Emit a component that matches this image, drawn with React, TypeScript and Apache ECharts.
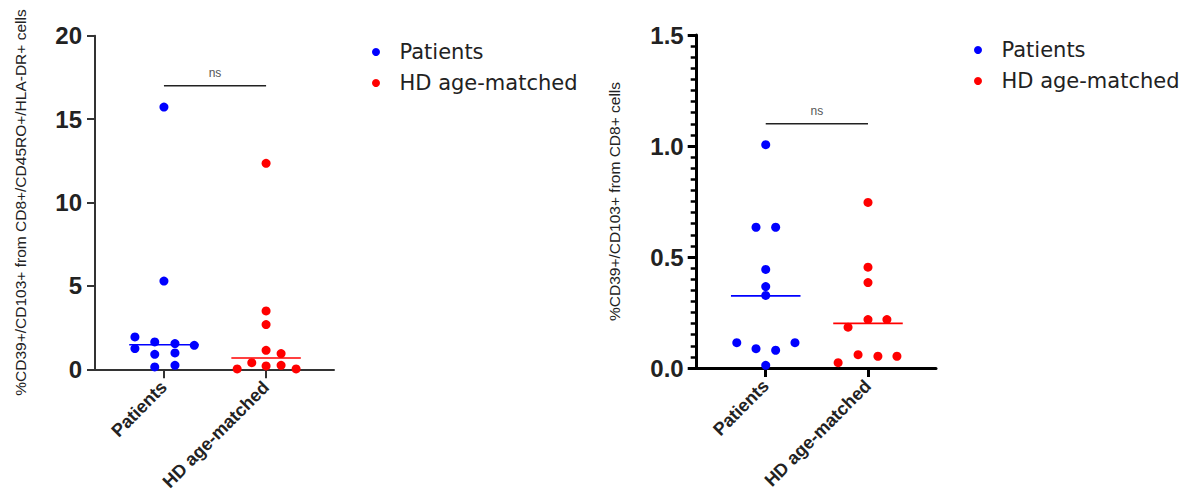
import React, { useEffect, useRef } from "react";
import * as echarts from "echarts";

const categories = ["Patients", "HD age-matched"];

// Left panel: %CD39+/CD103+ from CD8+/CD45RO+/HLA-DR+ cells  ([jittered x, value])
const leftPatients: [number, number][] = [
  [1.0, 15.72], [1.0, 5.29], [0.716, 1.94], [0.716, 1.24], [0.91, 1.64], [0.91, 0.9],
  [0.91, 0.14], [1.108, 1.54], [1.108, 0.98], [1.108, 0.24], [1.297, 1.44],
];
const leftHD: [number, number][] = [
  [2.0, 12.35], [2.0, 3.5], [2.0, 2.68], [2.0, 1.14], [1.86, 0.4], [1.717, 0.02],
  [2.0, 0.2], [2.147, 0.94], [2.147, 0.24], [2.294, 0.02],
];
const leftMedians = [1.47, 0.68];
const leftSigLevel = 17;
const leftTicks = [0, 5, 10, 15, 20];

// Right panel: %CD39+/CD103+ from CD8+ cells
const rightPatients: [number, number][] = [
  [1.0, 1.006], [0.905, 0.634], [1.097, 0.634], [1.0, 0.444], [1.0, 0.367], [1.0, 0.327],
  [0.717, 0.114], [0.905, 0.087], [1.097, 0.08], [1.286, 0.114], [1.0, 0.012],
];
const rightHD: [number, number][] = [
  [2.0, 0.746], [2.0, 0.454], [2.0, 0.385], [2.0, 0.218], [2.185, 0.218], [1.805, 0.184],
  [1.708, 0.024], [1.903, 0.06], [2.097, 0.053], [2.283, 0.053],
];
const rightMedians = [0.325, 0.201];
const rightSigLevel = 1.1;
const rightTicks = [0, 0.5, 1.0, 1.5];

const sigLabel = "ns";
const leftYName = "%CD39+/CD103+ from CD8+/CD45RO+/HLA-DR+ cells";
const rightYName = "%CD39+/CD103+ from CD8+ cells";

const BLUE = "#0000ff";
const RED = "#ff0000";
const HALF = 0.34;

function panelSeries(
  idx: number,
  patients: [number, number][],
  hd: [number, number][],
  medians: number[],
  sig: number
) {
  const base = { xAxisIndex: idx, yAxisIndex: idx };
  return [
    {
      ...base,
      type: "scatter",
      name: categories[0],
      data: patients,
      symbol: "circle",
      symbolSize: 9,
      itemStyle: { color: BLUE, opacity: 1 },
    },
    {
      ...base,
      type: "scatter",
      name: categories[1],
      data: hd,
      symbol: "circle",
      symbolSize: 9,
      itemStyle: { color: RED, opacity: 1 },
    },
    {
      ...base,
      type: "line",
      name: "medP" + idx,
      data: [[1 - HALF, medians[0]], [1 + HALF, medians[0]]],
      symbol: "none",
      lineStyle: { color: BLUE, width: 1.6 },
      z: 3,
    },
    {
      ...base,
      type: "line",
      name: "medH" + idx,
      data: [[2 - HALF, medians[1]], [2 + HALF, medians[1]]],
      symbol: "none",
      lineStyle: { color: RED, width: 1.6 },
      z: 3,
    },
    {
      ...base,
      type: "line",
      name: "sig" + idx,
      data: [[1, sig], [2, sig]],
      symbol: "none",
      lineStyle: { color: "#222", width: 1.5 },
    },
    {
      ...base,
      type: "scatter",
      name: "ns" + idx,
      data: [[1.5, sig]],
      symbol: "circle",
      symbolSize: 0.1,
      itemStyle: { color: "#555555", opacity: 1 },
      label: {
        show: true,
        position: "top",
        distance: 7,
        formatter: sigLabel,
        color: "#555555",
        fontSize: 12,
        fontFamily: "Liberation Sans, Arial, sans-serif",
      },
    },
  ];
}

function xAxis(idx: number, color: string, width: number) {
  return {
    gridIndex: idx,
    type: "value",
    min: 0.325,
    max: 2.665,
    splitLine: { show: false },
    axisLine: { show: true, onZero: false, lineStyle: { color, width } },
    axisTick: {
      show: true,
      length: 9,
      customValues: [1, 2],
      lineStyle: { color, width },
    },
    axisLabel: {
      show: true,
      customValues: [1, 2],
      rotate: 45,
      margin: 15,
      formatter: (v: number) => categories[Math.round(v) - 1] ?? "",
      color: "#222",
      fontSize: 18,
      fontWeight: "bold",
      fontFamily: "Liberation Sans, Arial, sans-serif",
    },
  };
}

export default function App() {
  const ref = useRef<HTMLDivElement>(null);
  useEffect(() => {
    document.body.style.margin = "0";
    if (!ref.current) return;
    const chart = echarts.init(ref.current, null, { renderer: "svg" });
    const labelFont = {
      color: "#222",
      fontSize: 24,
      fontWeight: "bold",
      fontFamily: "Liberation Sans, Arial, sans-serif",
      margin: 13,
    };
    const nameStyle = {
      color: "#222",
      fontSize: 15.5,
      fontFamily: "Liberation Sans, Arial, sans-serif",
    };
    const legendBase = {
      orient: "vertical",
      icon: "circle",
      itemWidth: 37,
      itemHeight: 8,
      itemGap: 9,
      textStyle: {
        color: "#222",
        fontSize: 21,
        lineHeight: 22,
        fontFamily: "DejaVu Sans, sans-serif",
      },
      data: categories,
    };
    chart.setOption({
      animation: false,
      backgroundColor: "#ffffff",
      legend: [
        { ...legendBase, left: 367, top: 36 },
        { ...legendBase, left: 969, top: 34 },
      ],
      grid: [
        { left: 95, top: 35.7, width: 239, height: 333.6 },
        { left: 696.7, top: 35, width: 239.3, height: 333 },
      ],
      xAxis: [xAxis(0, "#333", 2), xAxis(1, "#000", 3)],
      yAxis: [
        {
          gridIndex: 0,
          type: "value",
          min: leftTicks[0],
          max: leftTicks[leftTicks.length - 1],
          interval: 5,
          splitLine: { show: false },
          axisLine: { show: true, lineStyle: { color: "#333", width: 2 } },
          axisTick: { show: true, length: 8, lineStyle: { color: "#333", width: 2 } },
          axisLabel: { ...labelFont },
          name: leftYName,
          nameLocation: "middle",
          nameGap: 67,
          nameTextStyle: nameStyle,
        },
        {
          gridIndex: 1,
          type: "value",
          min: rightTicks[0],
          max: rightTicks[rightTicks.length - 1],
          interval: 0.5,
          splitLine: { show: false },
          axisLine: { show: true, lineStyle: { color: "#000", width: 3 } },
          axisTick: { show: true, length: 9, lineStyle: { color: "#000", width: 3 } },
          minorTick: { show: true, splitNumber: 10, length: 6, lineStyle: { color: "#000", width: 2.5 } },
          minorSplitLine: { show: false },
          axisLabel: { ...labelFont, formatter: (v: number) => v.toFixed(1) },
          name: rightYName,
          nameLocation: "middle",
          nameGap: 74,
          nameTextStyle: nameStyle,
        },
      ],
      series: [
        ...panelSeries(0, leftPatients, leftHD, leftMedians, leftSigLevel),
        ...panelSeries(1, rightPatients, rightHD, rightMedians, rightSigLevel),
      ],
    });
    return () => chart.dispose();
  }, []);
  return <div ref={ref} style={{ width: 1198, height: 495 }} />;
}
